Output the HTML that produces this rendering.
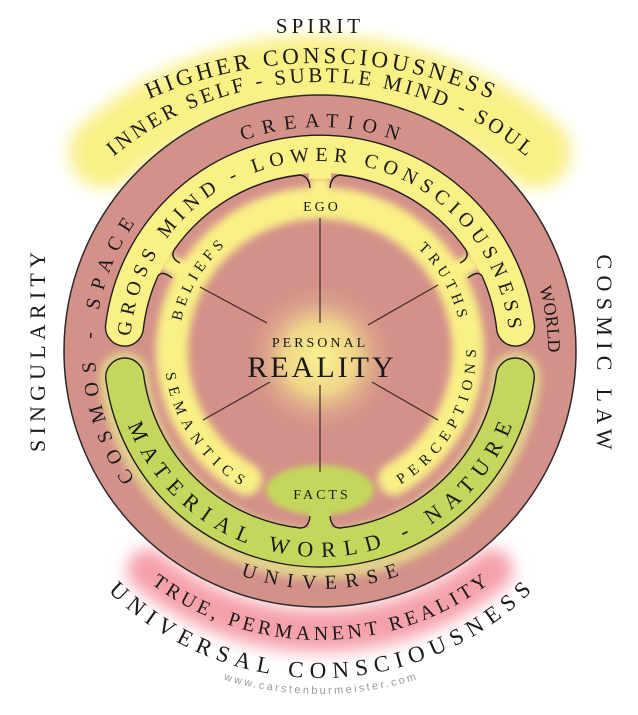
<!DOCTYPE html>
<html><head><meta charset="utf-8"><style>
html,body{margin:0;padding:0;background:#fff;}
svg{display:block;}
text{font-family:"Liberation Serif",serif;fill:#1a1a1a;}
</style></head><body>
<svg width="638" height="715" viewBox="0 0 638 715" xmlns="http://www.w3.org/2000/svg">
<defs>
<filter id="b8" filterUnits="userSpaceOnUse" x="0" y="0" width="638" height="715"><feGaussianBlur stdDeviation="8"/></filter>
<filter id="b4" filterUnits="userSpaceOnUse" x="0" y="0" width="638" height="715"><feGaussianBlur stdDeviation="4"/></filter>
<filter id="b3" filterUnits="userSpaceOnUse" x="0" y="0" width="638" height="715"><feGaussianBlur stdDeviation="3"/></filter>
<radialGradient id="cg" cx="0.5" cy="0.5" r="0.5">
<stop offset="0" stop-color="#fbf38e" stop-opacity="1"/>
<stop offset="0.45" stop-color="#f7e68a" stop-opacity="0.8"/>
<stop offset="1" stop-color="#d4918a" stop-opacity="0"/>
</radialGradient>
<path id="cw224" d="M320,575 A224,224 0 1 1 320,127 A224,224 0 1 1 320,575"/>
<path id="cw190" d="M320,541 A190,190 0 1 1 320,161 A190,190 0 1 1 320,541"/>
<path id="cw225" d="M320,576 A225,225 0 1 1 320,126 A225,225 0 1 1 320,576"/>
<path id="cw228" d="M320,579 A228,228 0 1 1 320,123 A228,228 0 1 1 320,579"/>
<path id="cw142" d="M320,493 A142,142 0 1 1 320,209 A142,142 0 1 1 320,493"/>
<path id="cwH" d="M320,909 A423,423 0 1 1 320,63 A423,423 0 1 1 320,909"/>
<path id="cwI" d="M320,728 A323,323 0 1 1 320,82 A323,323 0 1 1 320,728"/>
<path id="ccw238" d="M320,113 A238,238 0 1 0 320,589 A238,238 0 1 0 320,113"/>
<path id="ccw206" d="M320,145 A206,206 0 1 0 320,557 A206,206 0 1 0 320,145"/>
<path id="ccw156" d="M320,195 A156,156 0 1 0 320,507 A156,156 0 1 0 320,195"/>
<path id="ccwT" d="M320,76 A282,282 0 1 0 320,640 A282,282 0 1 0 320,76"/>
<path id="ccwU" d="M320,74 A302,302 0 1 0 320,678 A302,302 0 1 0 320,74"/>
<path id="ccwW" d="M320,26 A334,334 0 1 0 320,694 A334,334 0 1 0 320,26"/>
</defs>

<path d="M105,152 A328,328 0 0 1 535,152" fill="none" stroke="#f9f086" stroke-width="72" stroke-linecap="round" filter="url(#b8)"/>
<path d="M148,570 A273,273 0 0 0 492,570" fill="none" stroke="#f5a0ab" stroke-width="42" stroke-linecap="round" filter="url(#b8)"/>

<circle cx="320" cy="351" r="256" fill="#d4918a" stroke="#2a2a2a" stroke-width="1.5"/>

<path d="M246,479.2 A148,148 0 1 1 394,479.2" fill="none" stroke="#f9f086" stroke-width="32" stroke-linecap="round" filter="url(#b4)"/>
<g stroke="#f9f086" stroke-width="18" filter="url(#b3)">
<line x1="320" y1="205" x2="320" y2="178"/>
<line x1="193" y1="277" x2="164" y2="260"/>
<line x1="447" y1="277" x2="476" y2="260"/>
</g>

<circle cx="320" cy="358" r="78" fill="url(#cg)"/>

<ellipse cx="320" cy="490" rx="54" ry="25" fill="#c4d65c" filter="url(#b3)"/>
<rect x="309" y="500" width="22" height="32" fill="#c4d65c"/>

<path d="M124,377 A197,197 0 0 0 516,377" fill="none" stroke="#e6ec8a" stroke-width="50" stroke-linecap="round" filter="url(#b4)" opacity="0.7"/>

<path d="M143.2,330.2 A19,19 0 0 1 105.5,325.8 A216,216 0 0 1 534.5,325.8 A19,19 0 0 1 496.8,330.2 A178,178 0 0 0 143.2,330.2 Z" fill="#f9f086"/>
<rect x="309" y="165" width="22" height="14" fill="#f9f086"/>
<g fill="none" stroke="#1e1e1e" stroke-width="1.4">
<path d="M143.2,330.2 A19,19 0 0 1 105.5,325.8 A216,216 0 0 1 534.5,325.8 A19,19 0 0 1 496.8,330.2"/>
<path d="M143.2,330.2 A178,178 0 0 1 158,276 Q162,270 172,278"/>
<path d="M180,263 Q170,258 174,250 A178,178 0 0 1 300,175 Q309,176 310,188"/>
<path d="M330,188 Q331,176 340,175 A178,178 0 0 1 466,250 Q470,258 460,263"/>
<path d="M468,278 Q478,270 482,276 A178,178 0 0 1 496.8,330.2"/>
</g>

<path d="M496.4,374.5 A19,19 0 0 1 534.1,379.6 A216,216 0 0 1 105.9,379.6 A19,19 0 0 1 143.6,374.5 A178,178 0 0 0 496.4,374.5 Z" fill="#c4d65c"/>
<rect x="309" y="515" width="22" height="16" fill="#c4d65c"/>
<g fill="none" stroke="#1e1e1e" stroke-width="1.4">
<path d="M496.4,374.5 A19,19 0 0 1 534.1,379.6 A216,216 0 0 1 105.9,379.6 A19,19 0 0 1 143.6,374.5"/>
<path d="M143.6,374.5 A178,178 0 0 0 300,528 Q309,528 310,516"/>
<path d="M330,516 Q331,528 340,528 A178,178 0 0 0 496.4,374.5"/>
</g>

<g stroke="#3a2a2a" stroke-width="1.2">
<line x1="320" y1="218" x2="320" y2="323"/>
<line x1="320" y1="385" x2="320" y2="472"/>
<line x1="200" y1="287" x2="267" y2="323"/>
<line x1="438" y1="285" x2="368" y2="325"/>
<line x1="270" y1="382" x2="203" y2="420"/>
<line x1="372" y1="382" x2="438" y2="420"/>
</g>

<text x="320" y="347" font-size="14" text-anchor="middle" letter-spacing="3">PERSONAL</text>
<text x="322" y="377" font-size="30" text-anchor="middle" letter-spacing="3">REALITY</text>
<text x="322" y="211" font-size="14" text-anchor="middle" letter-spacing="3">EGO</text>
<text x="322" y="499" font-size="14" text-anchor="middle" letter-spacing="3">FACTS</text>

<text font-size="15"><textPath href="#cw142" startOffset="33.3%" text-anchor="middle" textLength="88" lengthAdjust="spacing">BELIEFS</textPath></text>
<text font-size="15"><textPath href="#cw142" startOffset="66.7%" text-anchor="middle" textLength="82" lengthAdjust="spacing">TRUTHS</textPath></text>
<text font-size="15"><textPath href="#ccw156" startOffset="34.4%" text-anchor="middle" textLength="140" lengthAdjust="spacing">SEMANTICS</textPath></text>
<text font-size="15"><textPath href="#ccw156" startOffset="66.9%" text-anchor="middle" textLength="162" lengthAdjust="spacing">PERCEPTIONS</textPath></text>

<text font-size="20"><textPath href="#cw190" startOffset="49.7%" text-anchor="middle" textLength="560" lengthAdjust="spacing">GROSS MIND - LOWER CONSCIOUSNESS</textPath></text>
<text font-size="22"><textPath href="#ccw206" startOffset="50%" text-anchor="middle" textLength="495" lengthAdjust="spacing">MATERIAL WORLD - NATURE</textPath></text>

<text font-size="20"><textPath href="#cw224" startOffset="50%" text-anchor="middle" textLength="158" lengthAdjust="spacing">CREATION</textPath></text>
<text font-size="20"><textPath href="#cw225" startOffset="25%" text-anchor="middle" textLength="272" lengthAdjust="spacing">COSMOS - SPACE</textPath></text>
<text font-size="18"><textPath href="#cw228" startOffset="72.8%" text-anchor="middle">WORLD</textPath></text>
<text font-size="20"><textPath href="#ccw238" startOffset="50%" text-anchor="middle" textLength="162" lengthAdjust="spacing">UNIVERSE</textPath></text>

<text x="320" y="33" font-size="21" text-anchor="middle" letter-spacing="4">SPIRIT</text>
<text font-size="23"><textPath href="#cwH" startOffset="50%" text-anchor="middle" textLength="352" lengthAdjust="spacing">HIGHER CONSCIOUSNESS</textPath></text>
<text font-size="21"><textPath href="#cwI" startOffset="50%" text-anchor="middle" textLength="448" lengthAdjust="spacing">INNER SELF - SUBTLE MIND - SOUL</textPath></text>
<text font-size="20"><textPath href="#ccwT" startOffset="50%" text-anchor="middle" textLength="362" lengthAdjust="spacing">TRUE, PERMANENT REALITY</textPath></text>
<text font-size="23"><textPath href="#ccwU" startOffset="50%" text-anchor="middle" textLength="470" lengthAdjust="spacing">UNIVERSAL CONSCIOUSNESS</textPath></text>
<text font-size="11" style="font-family:'Liberation Sans',sans-serif;fill:#9a9a9a"><textPath href="#ccwW" startOffset="50%" text-anchor="middle" textLength="196" lengthAdjust="spacing">www.carstenburmeister.com</textPath></text>

<text transform="translate(45,352) rotate(-90)" font-size="22" text-anchor="middle" textLength="200" lengthAdjust="spacing">SINGULARITY</text>
<text transform="translate(597,352) rotate(90)" font-size="22" text-anchor="middle" textLength="195" lengthAdjust="spacing">COSMIC LAW</text>
</svg>
</body></html>
